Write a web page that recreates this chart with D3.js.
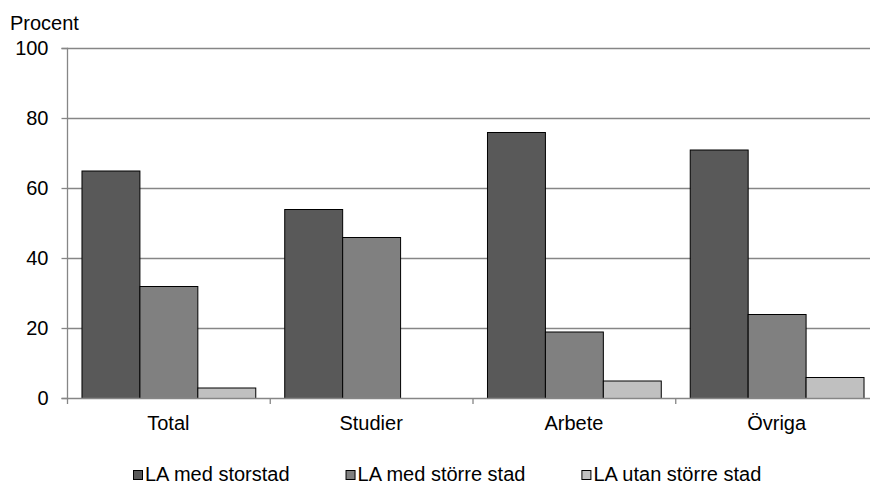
<!DOCTYPE html>
<html><head><meta charset="utf-8">
<script src="https://cdn.jsdelivr.net/npm/d3@7"></script>
<style>body{margin:0;background:#fff}svg{display:block;font-family:"Liberation Sans",Arial,sans-serif}</style>
</head><body><svg id="c" width="870" height="485"></svg>
<script>
const categories = ["Total", "Studier", "Arbete", "Övriga"];
const seriesNames = ["LA med storstad", "LA med större stad", "LA utan större stad"];
const storstad = [65, 54, 76, 71];
const storreStad = [32, 46, 19, 24];
const utanStorreStad = [3, 0, 5, 6];
const yTicks = [0, 20, 40, 60, 80, 100];
const colors = ["#595959", "#808080", "#c0c0c0"];
const series = [storstad, storreStad, utanStorreStad];

(function () {
const svg = d3.select("#c");
const pLeft = 67, pRight = 878, pTop = 48, pBottom = 398;
const FS = 20;
const x = d3.scaleBand().domain(categories).range([pLeft, pRight]).paddingInner(0).paddingOuter(0);
const y = d3.scaleLinear().domain([0, 100]).range([pBottom, pTop]);
const inner = d3.scaleBand().domain(d3.range(3)).range([0, x.bandwidth()]).paddingOuter(0.25).paddingInner(0);

// gridlines
svg.append("g").selectAll("line").data(yTicks.filter(d => d > 0)).join("line")
  .attr("x1", pLeft).attr("x2", pRight).attr("y1", d => y(d) + 0.5).attr("y2", d => y(d) + 0.5)
  .attr("stroke", "#868686").attr("stroke-width", 1.3);

// y axis
const ya = svg.append("g").attr("transform", `translate(${pLeft + 0.5},0)`)
  .call(d3.axisLeft(y).tickValues(yTicks).tickSize(6).tickPadding(13));
ya.select(".domain").attr("stroke", "#868686").attr("stroke-width", 1.3).attr("d", `M-6,${pTop + 0.5}H0V${pBottom + 0.5}H-6`);
ya.selectAll(".tick line").attr("stroke", "#868686").attr("stroke-width", 1.3);
ya.selectAll("text").attr("font-size", FS).attr("fill", "#000").attr("font-family", "Liberation Sans, Arial, sans-serif");

// bars
categories.forEach((c, i) => {
  series.forEach((s, k) => {
    const v = s[i];
    if (v <= 0) return;
    svg.append("rect")
      .attr("x", x(c) + inner(k) + 0.5)
      .attr("y", y(v) + 0.5)
      .attr("width", inner.bandwidth())
      .attr("height", y(0) - y(v))
      .attr("fill", colors[k]).attr("stroke", "#000").attr("stroke-width", 1);
  });
});

// x axis
const xa = svg.append("g").attr("transform", `translate(0,${pBottom + 0.5})`)
  .call(d3.axisBottom(x).tickSize(0).tickPadding(0));
xa.select(".domain").attr("stroke", "#868686").attr("stroke-width", 1.3).attr("d", `M${pLeft},0H${pRight}`);
xa.selectAll("text").attr("font-size", FS).attr("fill", "#000").attr("font-family", "Liberation Sans, Arial, sans-serif")
  .attr("dy", null).attr("y", 31);
svg.append("g").selectAll("line").data(categories).join("line")
  .attr("x1", d => x(d) + 0.5).attr("x2", d => x(d) + 0.5)
  .attr("y1", pBottom).attr("y2", pBottom + 6)
  .attr("stroke", "#868686").attr("stroke-width", 1.3);

// y title
svg.append("text").attr("x", 10).attr("y", 30).attr("font-size", FS).text("Procent");

// legend
let lx = 133;
seriesNames.forEach((n, k) => {
  svg.append("rect").attr("x", lx + 0.5).attr("y", 470.5).attr("width", 9).attr("height", 9)
    .attr("fill", colors[k]).attr("stroke", "#000").attr("stroke-width", 1);
  const t = svg.append("text").attr("x", lx + 12).attr("y", 481).attr("font-size", FS).text(n);
  lx = lx + 12 + t.node().getComputedTextLength() + 56;
});
})();
</script></body></html>
